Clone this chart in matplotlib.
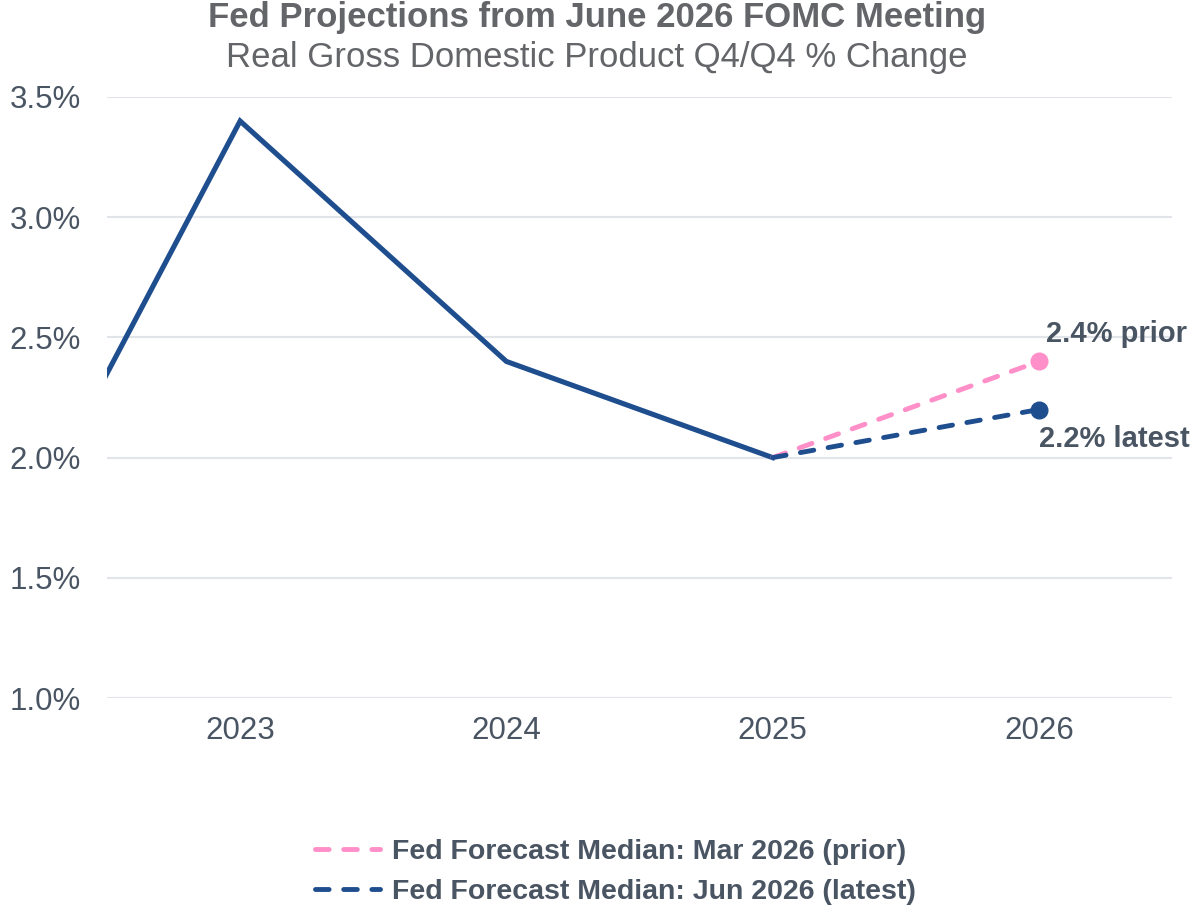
import matplotlib
matplotlib.use("Agg")
import matplotlib.pyplot as plt
from matplotlib.ticker import FuncFormatter

plt.rcParams['font.family'] = ['Liberation Sans', 'DejaVu Sans']

years = [2022, 2023, 2024, 2025, 2026]
tick_years = [2023, 2024, 2025, 2026]
actual = [1.3, 3.4, 2.4, 2.0]            # 2022-2025
prior_years = [2025, 2026]
prior_vals = [2.0, 2.4]                   # Mar 2026 median
latest_years = [2025, 2026]
latest_vals = [2.0, 2.2]                  # Jun 2026 median
yticks = [1.0, 1.5, 2.0, 2.5, 3.0, 3.5]

BLUE = '#1f4e8f'
PINK = '#ff8fc8'
TXT = '#4a5563'
TITLE = '#636569'
GRID = '#e1e4e8'

fig = plt.figure(figsize=(11.91, 9.11), dpi=100)
ax = fig.add_axes([107/1191, 1-698/911, (1172-107)/1191, (698-97)/911])

DASH = (0, (2.8, 3.0))
ax.plot(years[:4], actual, color=BLUE, lw=3.7, solid_joinstyle='miter', zorder=3)
ax.plot(prior_years, prior_vals, color=PINK, lw=3.5, ls=DASH, dash_capstyle='round',
        label='Fed Forecast Median: Mar 2026 (prior)', zorder=3)
ax.plot(latest_years, latest_vals, color=BLUE, lw=3.5, ls=DASH, dash_capstyle='round',
        label='Fed Forecast Median: Jun 2026 (latest)', zorder=4)
ax.plot(prior_years[-1], prior_vals[-1], 'o', color=PINK, ms=12, zorder=5, clip_on=False)
ax.plot(latest_years[-1], latest_vals[-1], 'o', color=BLUE, ms=12, zorder=5, clip_on=False)

ax.annotate(f"{prior_vals[-1]:.1f}% prior", (prior_years[-1], prior_vals[-1]),
            xytext=(5, 20), textcoords='offset points', ha='left', va='center',
            fontsize=21, fontweight='bold', color=TXT, annotation_clip=False)
ax.annotate(f"{latest_vals[-1]:.1f}% latest", (latest_years[-1], latest_vals[-1]),
            xytext=(0, -21), textcoords='offset points', ha='left', va='center',
            fontsize=21, fontweight='bold', color=TXT, annotation_clip=False)

ax.set_xlim(2022.5, 2026.5)
ax.set_ylim(1.0, 3.5)
ax.set_xticks(tick_years)
ax.set_xticklabels([str(y) for y in tick_years])
ax.set_yticks(yticks)
ax.yaxis.set_major_formatter(FuncFormatter(lambda v, p: f"{v:.1f}%"))
ax.grid(axis='y', color=GRID, lw=1.5)
ax.set_axisbelow(True)
for s in ax.spines.values():
    s.set_visible(False)
ax.tick_params(axis='both', length=0, labelsize=22.5, colors=TXT)
ax.tick_params(axis='y', pad=19)
ax.tick_params(axis='x', pad=13)

fig.text(597/1191, 1-18/911, 'Fed Projections from June 2026 FOMC Meeting',
         ha='center', va='center', fontsize=25, fontweight='bold', color=TITLE)
fig.text(597/1191, 1-57/911, 'Real Gross Domestic Product Q4/Q4 % Change',
         ha='center', va='center', fontsize=25, color=TITLE)

leg = fig.legend(loc='center left', bbox_to_anchor=(289/1191, 1-872/911),
                 frameon=False, prop={'size': 20.5, 'weight': 'bold'},
                 handlelength=2.3, handletextpad=0.4, labelspacing=0.5)
for t in leg.get_texts():
    t.set_color(TXT)

fig.savefig('out.png', dpi=100)
